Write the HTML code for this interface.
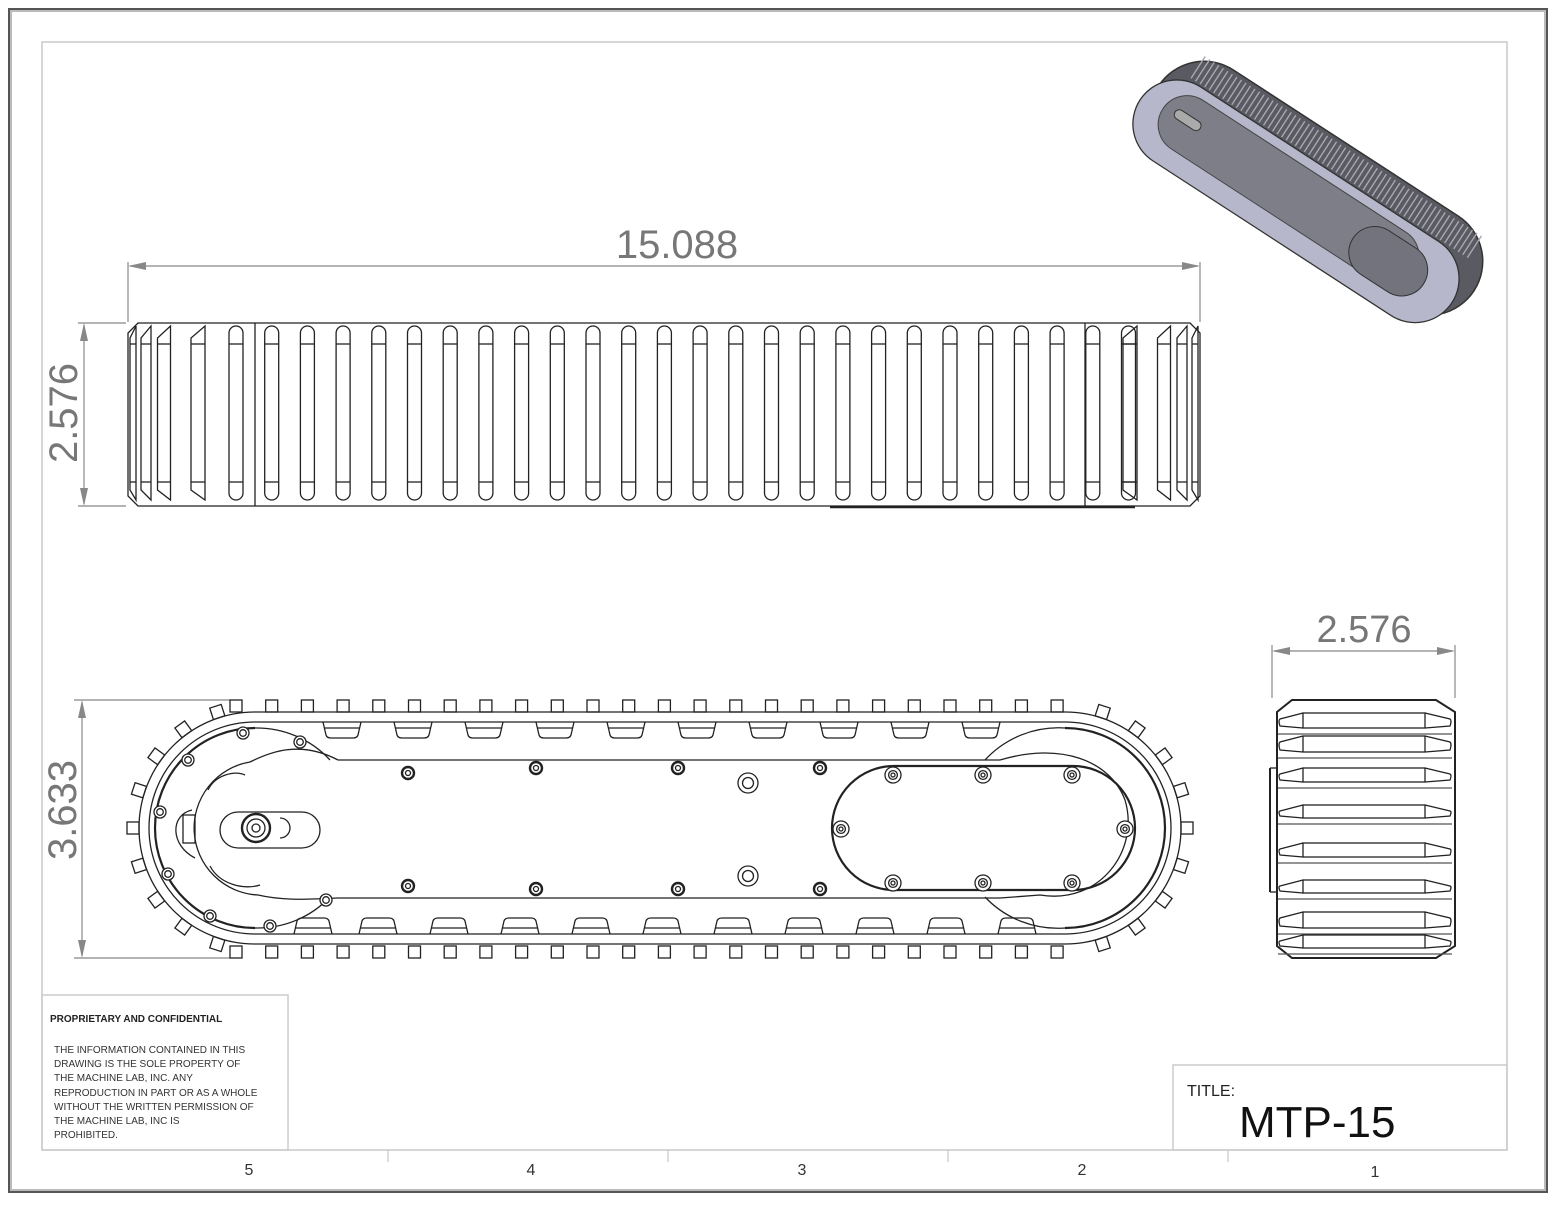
<!DOCTYPE html>
<html><head><meta charset="utf-8"><style>
html,body{margin:0;padding:0;background:#fff;}
svg{display:block;}
text{font-family:"Liberation Sans",sans-serif;}
</style></head><body>
<svg id="s" width="1555" height="1206" viewBox="0 0 1555 1206" xmlns="http://www.w3.org/2000/svg">
<rect x="0" y="0" width="1555" height="1206" fill="#fff"/>
<rect x="9" y="9" width="1538" height="1183" fill="none" stroke="#555" stroke-width="2"/>
<rect x="11" y="11" width="1534" height="1179" fill="none" stroke="#bbb" stroke-width="2"/>
<rect x="42" y="42" width="1465" height="1108" fill="none" stroke="#c8c8c8" stroke-width="1.5"/>
<g stroke="#bbb" stroke-width="1"><line x1="388" y1="1150" x2="388" y2="1162"/><line x1="668" y1="1150" x2="668" y2="1162"/><line x1="948" y1="1150" x2="948" y2="1162"/><line x1="1228" y1="1150" x2="1228" y2="1162"/></g>
<g font-size="16" fill="#333" text-anchor="middle"><text x="249" y="1175">5</text><text x="531" y="1175">4</text><text x="802" y="1175">3</text><text x="1082" y="1175">2</text><text x="1375" y="1177">1</text></g>
<rect x="42" y="995" width="246" height="155" fill="none" stroke="#ccc" stroke-width="1.5"/>
<text x="50" y="1022" font-size="10" font-weight="bold" fill="#222">PROPRIETARY AND CONFIDENTIAL</text>
<g font-size="10" fill="#333">
<text x="54" y="1053">THE INFORMATION CONTAINED IN THIS</text>
<text x="54" y="1067">DRAWING IS THE SOLE PROPERTY OF</text>
<text x="54" y="1081">THE MACHINE LAB, INC.  ANY</text>
<text x="54" y="1096">REPRODUCTION IN PART OR AS A WHOLE</text>
<text x="54" y="1110">WITHOUT THE WRITTEN PERMISSION OF</text>
<text x="54" y="1124">THE MACHINE LAB, INC IS</text>
<text x="54" y="1138">PROHIBITED.</text></g>
<rect x="1173" y="1065" width="334" height="85" fill="none" stroke="#ccc" stroke-width="1.5"/>
<text x="1187" y="1096" font-size="16" fill="#222">TITLE:</text>
<text x="1239" y="1137" font-size="44" fill="#111">MTP-15</text>
<g stroke="#888" stroke-width="1.2" fill="none">
<line x1="128" y1="262" x2="128" y2="322"/><line x1="1200" y1="262" x2="1200" y2="322"/>
<line x1="130" y1="266" x2="1198" y2="266"/>
<line x1="78" y1="323" x2="126" y2="323"/><line x1="78" y1="506" x2="126" y2="506"/>
<line x1="84" y1="325" x2="84" y2="504"/>
<line x1="74" y1="700" x2="230" y2="700"/><line x1="74" y1="958" x2="230" y2="958"/>
<line x1="82" y1="702" x2="82" y2="956"/>
<line x1="1272" y1="645" x2="1272" y2="698"/><line x1="1455" y1="645" x2="1455" y2="698"/>
<line x1="1274" y1="651" x2="1453" y2="651"/>
</g>
<g fill="#888">
<path d="M128,266 l18,-4 v8z"/><path d="M1200,266 l-18,-4 v8z"/>
<path d="M84,323 l-4,18 h8z"/><path d="M84,506 l-4,-18 h8z"/>
<path d="M82,700 l-4,18 h8z"/><path d="M82,958 l-4,-18 h8z"/>
<path d="M1272,651 l18,-4 v8z"/><path d="M1455,651 l-18,-4 v8z"/>
</g>
<g fill="#777" font-size="40">
<text x="677" y="258" text-anchor="middle">15.088</text>
<text transform="translate(77,413) rotate(-90)" text-anchor="middle">2.576</text>
<text transform="translate(76,810) rotate(-90)" text-anchor="middle">3.633</text>
<text x="1364" y="642" text-anchor="middle" font-size="38">2.576</text>
</g>
<g id="top" stroke="#222" stroke-width="1.3" fill="none">
<path d="M138,323 H1190 L1200,333 V496 L1190,506 H138 L128,496 V333Z"/>
<line x1="255" y1="323" x2="255" y2="506"/><line x1="1085" y1="323" x2="1085" y2="506"/>
<line x1="830" y1="507" x2="1135" y2="507" stroke-width="2.5"/>
</g>
<g id="side" stroke="#222" stroke-width="1.3" fill="none">
<path d="M255,712 H1065 A116,116 0 0 1 1065,944 H255 A116,116 0 0 1 255,712Z"/>
<path d="M255,722 H1065 A106,106 0 0 1 1065,934 H255 A106,106 0 0 1 255,722Z"/>
<path d="M255,728 A100,100 0 0 0 255,928" stroke-width="2.2"/>
<path d="M255,728 A100,100 0 0 1 330,760"/>
<path d="M255,928 A100,100 0 0 0 330,897"/>
<path d="M1065,728 A100,100 0 0 1 1065,928" stroke-width="2.2"/>
<path d="M1065,728 A100,100 0 0 0 985,760"/>
<path d="M1065,928 A100,100 0 0 1 985,897"/>
<path d="M338,760 C300,740 270,752 250,762 A67,67 0 0 0 258,895 C280,900 300,900 338,898"/>
<line x1="338" y1="760" x2="1000" y2="760"/><line x1="338" y1="898" x2="1000" y2="898"/>
<path d="M1000,760 C1060,742 1110,760 1125,800 C1140,850 1100,905 1040,895 L1000,898"/>
<path d="M208,790 C215,775 235,770 245,775"/><path d="M210,866 C220,885 245,890 260,885"/>
<path d="M192,810 C170,815 170,845 195,858"/>
<rect x="183" y="815" width="12" height="28"/>
<rect x="220" y="812" width="100" height="36" rx="18"/>
<circle cx="256" cy="828" r="14" stroke-width="2.4"/><circle cx="256" cy="828" r="9"/><circle cx="256" cy="828" r="4"/>
<path d="M280,818 A10,10 0 0 1 280,838"/>
<rect x="832" y="766" width="303" height="124" rx="62" stroke-width="2.2"/>
</g>
<g id="endv" stroke="#222" stroke-width="1.3" fill="none">
<path d="M1292,700 H1436 L1455,712 V946 L1436,958 H1292 L1277,946 V712Z" stroke-width="2"/>
<line x1="1270" y1="768" x2="1270" y2="892" stroke-width="2"/><line x1="1270" y1="768" x2="1277" y2="768"/><line x1="1270" y1="892" x2="1277" y2="892"/>
</g>
<g transform="translate(1312,195) rotate(33)">
<rect x="-188" y="-62" width="376" height="108" rx="54" fill="#5a5a62" stroke="#333" stroke-width="1.5"/>
<g id="isorib" stroke="#a8a8b2" stroke-width="1.4"></g>
<rect x="-196" y="-30" width="372" height="88" rx="44" fill="#b7b7cc" stroke="#333" stroke-width="1.3"/>
<rect x="-172" y="-20" width="300" height="58" rx="29" fill="#7e7e88" stroke="#444"/>
<rect x="58" y="-12" width="84" height="52" rx="26" fill="#73737e" stroke="#333"/>
<rect x="-160" y="0" width="30" height="10" rx="5" fill="#aaa" stroke="#333"/>
</g>
<script>
var NS="http://www.w3.org/2000/svg";
function add(p,tag,a){var e=document.createElementNS(NS,tag);for(var k in a)e.setAttribute(k,a[k]);document.getElementById(p).appendChild(e);return e;}
for(var i=0;i<26;i++){var cx=236+i*35.7;
add("top","rect",{x:cx-7,y:326,width:14,height:174,rx:7});
add("top","line",{x1:cx-7,y1:344,x2:cx+7,y2:344});
add("top","line",{x1:cx-7,y1:482,x2:cx+7,y2:482});}
[[198,1],[164,2],[146,3],[133,4]].forEach(function(s){
 var x=s[0],w=[0,14,13,10,6][s[1]];
 ["L","R"].forEach(function(side){var cx=side=="L"?x:1328-x;
  add("top","path",{d:"M"+(cx-w/2)+",338 L"+(cx-w/2)+",490 L"+(cx+w/2)+",500 L"+(cx+w/2)+",326 Z"});
  add("top","line",{x1:cx-w/2,y1:344,x2:cx+w/2,y2:344});add("top","line",{x1:cx-w/2,y1:482,x2:cx+w/2,y2:482});});});
for(var i=0;i<24;i++){var cx=236+i*35.7; if(cx>1090)break;
add("side","rect",{x:cx-6,y:700,width:12,height:12});
add("side","rect",{x:cx-6,y:946,width:12,height:12});}
function arcLugs(cx,dir){for(var k=1;k<=9;k++){var a=(-90+k*18)*Math.PI/180;var x=cx+dir*122*Math.cos(a),y=828+122*Math.sin(a);
var deg=dir*(k*18);add("side","rect",{x:-6,y:-6,width:12,height:12,transform:"translate("+x+","+y+") rotate("+deg+")"});}}
arcLugs(255,-1);arcLugs(1065,1);
for(var i=0;i<10;i++){var cx=342+i*71;add("side","path",{d:"M"+(cx-19)+",722 L"+(cx-16)+",735 Q"+(cx-15)+",738 "+(cx-11)+",738 H"+(cx+11)+" Q"+(cx+15)+",738 "+(cx+16)+",735 L"+(cx+19)+",722"});add("side","line",{x1:cx-18,y1:728,x2:cx+18,y2:728});}
for(var i=-1;i<10;i++){var cx=378+i*71+(i<0?6:0);add("side","path",{d:"M"+(cx-19)+",934 L"+(cx-16)+",921 Q"+(cx-15)+",918 "+(cx-11)+",918 H"+(cx+11)+" Q"+(cx+15)+",918 "+(cx+16)+",921 L"+(cx+19)+",934"});add("side","line",{x1:cx-18,y1:928,x2:cx+18,y2:928});}
function bolt(x,y,r){add("side","circle",{cx:x,cy:y,r:r,fill:"#fff"});add("side","circle",{cx:x,cy:y,r:r*0.55});}
[[243,733],[300,742],[188,760],[160,812],[168,874],[210,916],[270,926],[326,900]].forEach(function(p){bolt(p[0],p[1],6);});
[[408,773],[536,768],[678,768],[820,768],[408,886],[536,889],[678,889],[820,889]].forEach(function(p){add("side","circle",{cx:p[0],cy:p[1],r:6,"stroke-width":2.4});add("side","circle",{cx:p[0],cy:p[1],r:2.5});});
bolt(748,783,10);bolt(748,876,10);
[[893,775],[983,775],[1072,775],[841,829],[1125,829],[893,883],[983,883],[1072,883]].forEach(function(p){bolt(p[0],p[1],8);add("side","circle",{cx:p[0],cy:p[1],r:2});});
[[713,728],[736,752],[768,782],[805,818],[843,857],[880,893],[912,928],[935,948]].forEach(function(r){
 add("endv","rect",{x:1303,y:r[0],width:122,height:r[1]-r[0]});
 add("endv","path",{d:"M1303,"+r[0]+" L1280,"+(r[0]+6)+" Q1278,"+((r[0]+r[1])/2)+" 1280,"+(r[1]-2)+" L1303,"+r[1]});
 add("endv","path",{d:"M1425,"+r[0]+" L1450,"+(r[0]+6)+" Q1452,"+((r[0]+r[1])/2)+" 1450,"+(r[1]-2)+" L1425,"+r[1]});
 add("endv","line",{x1:1278,y1:r[1]+6,x2:1452,y2:r[1]+6,stroke:"#555"});});
for(var i=0;i<62;i++){var x=-165+i*5.4;add("isorib","line",{x1:x,y1:-58,x2:x,y2:-32});}
</script>
</svg>
</body></html>
